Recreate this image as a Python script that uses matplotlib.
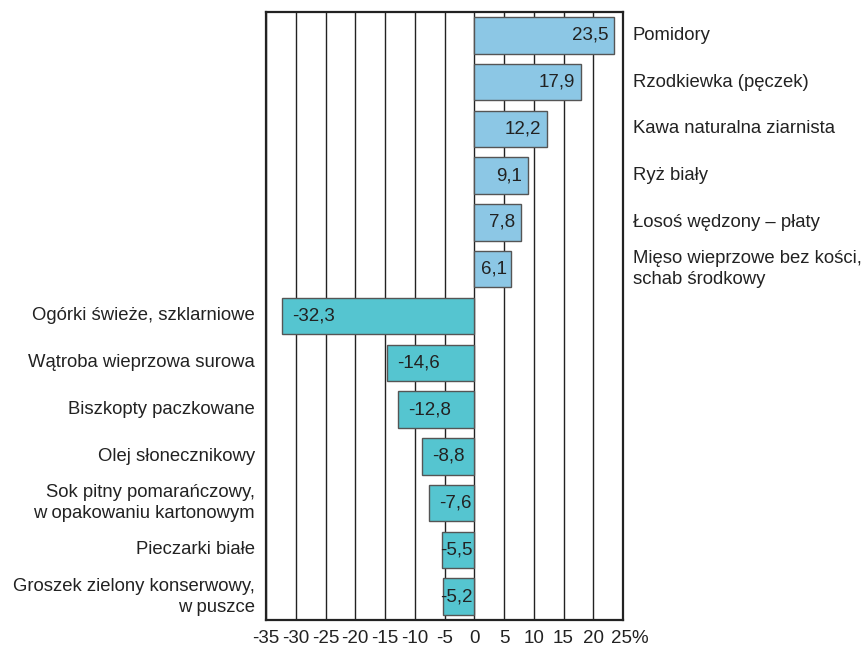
import matplotlib
matplotlib.use("Agg")
import matplotlib.pyplot as plt
from matplotlib.transforms import blended_transform_factory, ScaledTranslation

plt.rcParams['font.family'] = ['Liberation Sans', 'DejaVu Sans']

categories = [
    "Pomidory",
    "Rzodkiewka (pęczek)",
    "Kawa naturalna ziarnista",
    "Ryż biały",
    "Łosoś wędzony – płaty",
    "Mięso wieprzowe bez kości,\nschab środkowy",
    "Ogórki świeże, szklarniowe",
    "Wątroba wieprzowa surowa",
    "Biszkopty paczkowane",
    "Olej słonecznikowy",
    "Sok pitny pomarańczowy,\nw opakowaniu kartonowym",
    "Pieczarki białe",
    "Groszek zielony konserwowy,\nw puszce",
]
values = [23.5, 17.9, 12.2, 9.1, 7.8, 6.1, -32.3, -14.6, -12.8, -8.8, -7.6, -5.5, -5.2]
xticks = [-35, -30, -25, -20, -15, -10, -5, 0, 5, 10, 15, 20, 25]
xticklabels = ["-35", "-30", "-25", "-20", "-15", "-10", "-5", "0", "5", "10", "15", "20", "25%"]

pos_color = "#8CC7E5"
neg_color = "#55C5D0"

fig = plt.figure(figsize=(8.66, 6.48), dpi=100)
ax = fig.add_axes([266/866, 1-620/648, 357/866, 608/648])

n = len(values)
ypos = list(range(n))
colors = [pos_color if v > 0 else neg_color for v in values]
ax.barh(ypos, values, height=0.78, color=colors, edgecolor="#555555", linewidth=1.0, zorder=3)

ax.set_xlim(-35, 25)
ax.set_ylim(n - 0.5, -0.5)
ax.set_xticks(xticks)
ax.set_xticklabels(xticklabels, fontsize=13.5, color="#222222")
ax.tick_params(axis='x', length=0, pad=7)
ax.set_yticks([])
last = ax.get_xticklabels()[-1]
last.set_transform(last.get_transform() + ScaledTranslation(7/100, 0, fig.dpi_scale_trans))
for x in xticks:
    ax.axvline(x, color="#222222", linewidth=1.0, zorder=1)
for s in ax.spines.values():
    s.set_color("#222222")
    s.set_linewidth(1.6)
    s.set_zorder(4)

vfs = 13.5
for i, v in enumerate(values):
    lab = f"{abs(v):.1f}".replace(".", ",")
    if v > 0:
        if v > 7:
            ax.text(v - 1.0, i, lab, ha='right', va='center', fontsize=vfs, color="#222222", zorder=5)
        else:
            ax.text(v - 0.6, i, lab, ha='right', va='center', fontsize=vfs, color="#222222", zorder=5)
    else:
        lab = "-" + lab
        if v < -7:
            ax.text(v + 1.7, i, lab, ha='left', va='center', fontsize=vfs, color="#222222", zorder=5)
        else:
            ax.text(-0.3, i, lab, ha='right', va='center', fontsize=vfs, color="#222222", zorder=5)

fs = 13.3
trans = blended_transform_factory(ax.transAxes, ax.transData)
for i, (c, v) in enumerate(zip(categories, values)):
    if v > 0:
        ax.text(1.028, i, c, transform=trans, ha='left', va='center', fontsize=fs,
                color="#222222", linespacing=1.3, clip_on=False)
    else:
        ax.text(-0.031, i, c, transform=trans, ha='right', va='center', fontsize=fs,
                color="#222222", linespacing=1.3, clip_on=False, multialignment='right')

fig.savefig("out.png", dpi=100)
